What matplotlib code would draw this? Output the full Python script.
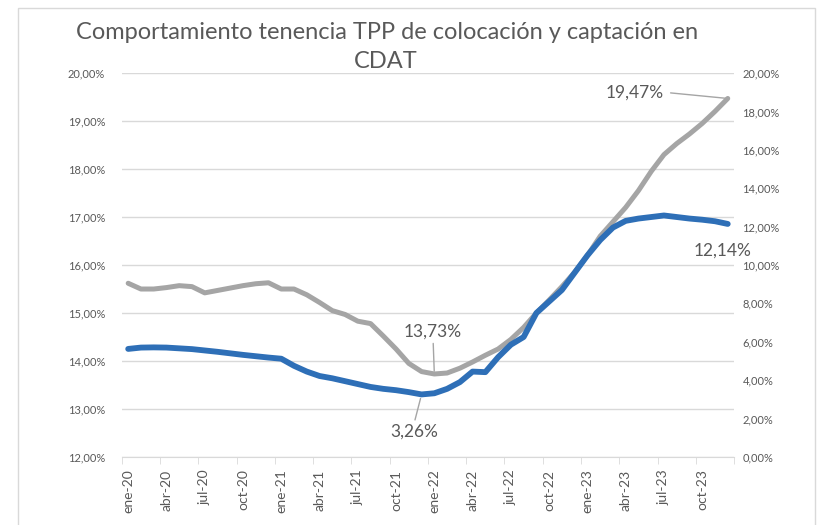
import numpy as np
import matplotlib
matplotlib.use("Agg")
import matplotlib.pyplot as plt
from matplotlib.patches import Rectangle

plt.rcParams['font.family'] = ['Lato', 'DejaVu Sans']

# meses ene-20 .. dic-23
meses = ['ene', 'feb', 'mar', 'abr', 'may', 'jun', 'jul', 'ago', 'sep', 'oct', 'nov', 'dic']
fechas = [m + '-' + str(a) for a in range(20, 24) for m in meses]

# colocación (eje izquierdo, %)
colocacion = [15.62, 15.50, 15.50, 15.53, 15.57, 15.55, 15.42, 15.47, 15.52, 15.57, 15.61, 15.63,
              15.50, 15.50, 15.38, 15.22, 15.05, 14.97, 14.83, 14.78, 14.52, 14.25, 13.95, 13.78,
              13.73, 13.75, 13.85, 13.98, 14.12, 14.25, 14.45, 14.70, 15.00, 15.27, 15.55, 15.85,
              16.20, 16.60, 16.90, 17.20, 17.55, 17.95, 18.30, 18.53, 18.73, 18.95, 19.20, 19.47]

# captación (eje derecho, %)
captacion = [5.63, 5.70, 5.71, 5.70, 5.66, 5.62, 5.55, 5.48, 5.40, 5.32, 5.25, 5.18,
             5.12, 4.75, 4.45, 4.22, 4.10, 3.95, 3.80, 3.65, 3.55, 3.48, 3.38, 3.26,
             3.32, 3.55, 3.90, 4.45, 4.42, 5.20, 5.85, 6.25, 7.50, 8.10, 8.70, 9.60,
             10.50, 11.30, 11.95, 12.30, 12.42, 12.50, 12.58, 12.50, 12.42, 12.36, 12.28, 12.14]

ticks_izq = np.arange(12, 20.5, 1)
ticks_der = np.arange(0, 20.5, 2)

gris = '#A5A5A5'
azul = '#2E6FB7'
texto = '#595959'

def pct(v):
    return ('%.2f%%' % v).replace('.', ',')

fig = plt.figure(figsize=(8.23, 5.25), dpi=100)
# marco del gráfico
fig.patches.append(Rectangle((18 / 823, -0.05), 797 / 823, 1 - 8 / 525 + 0.05,
                             transform=fig.transFigure, fill=False,
                             edgecolor='#D9D9D9', lw=1))

ax = fig.add_axes([0.148, 0.1295, 0.744, 0.7314])
ax2 = ax.twinx()

x = np.arange(len(fechas))
ax.plot(x, colocacion, color=gris, lw=3.6, solid_capstyle='round', zorder=3)
ax2.plot(x, captacion, color=azul, lw=4.2, solid_capstyle='round', zorder=3)

ax.set_xlim(-0.5, len(fechas) - 0.5)
ax.set_ylim(12, 20)
ax2.set_ylim(0, 20)
ax.set_yticks(ticks_izq)
ax.set_yticklabels([pct(v) for v in ticks_izq])
ax2.set_yticks(ticks_der)
ax2.set_yticklabels([pct(v) for v in ticks_der])
ax.grid(axis='y', color='#D9D9D9', lw=1)
ax.set_axisbelow(True)

ax.set_xticks(x[::3])
ax.set_xticklabels(fechas[::3], rotation=90)
ax.set_xticks(np.arange(-0.5, len(fechas), 3), minor=True)
ax.tick_params(axis='x', which='major', length=0, pad=9, labelsize=10, labelcolor=texto)
ax.tick_params(axis='x', which='minor', length=5, color='#D9D9D9')
ax.tick_params(axis='y', length=0, labelsize=8, labelcolor=texto, pad=12)
ax2.tick_params(axis='y', length=0, labelsize=8, labelcolor=texto, pad=6)

for a in (ax, ax2):
    for s in a.spines.values():
        s.set_visible(False)
ax.spines['bottom'].set_visible(True)
ax.spines['bottom'].set_color('#D9D9D9')

# etiquetas de datos
ax.annotate(pct(colocacion[-1]), xy=(47, colocacion[-1]), xytext=(39.7, 19.6),
            fontsize=12.5, color=texto, va='center', ha='center',
            arrowprops=dict(arrowstyle='-', color=gris, lw=1, shrinkA=3, shrinkB=0,
                            relpos=(1, 0.5)))
ax.annotate(pct(colocacion[24]), xy=(24, colocacion[24]), xytext=(23.9, 14.62),
            fontsize=12.5, color=texto, va='center', ha='center',
            arrowprops=dict(arrowstyle='-', color=gris, lw=1, shrinkA=1, shrinkB=2,
                            relpos=(0.5, 0)))
ax2.annotate(pct(captacion[23]), xy=(23, captacion[23]), xytext=(22.4, 1.3),
             fontsize=12.5, color=texto, va='center', ha='center',
             arrowprops=dict(arrowstyle='-', color=gris, lw=1, shrinkA=1, shrinkB=3,
                             relpos=(0.5, 1)))
ax2.text(46.6, 10.75, pct(captacion[-1]), fontsize=12.5, color=texto, ha='center', va='center')

fig.text(0.47, 0.939, 'Comportamiento tenencia TPP de colocación y captación en',
         fontsize=17, color=texto, ha='center', va='center')
fig.text(0.469, 0.882, 'CDAT', fontsize=17, color=texto, ha='center', va='center')

fig.savefig('out.png', dpi=100)
